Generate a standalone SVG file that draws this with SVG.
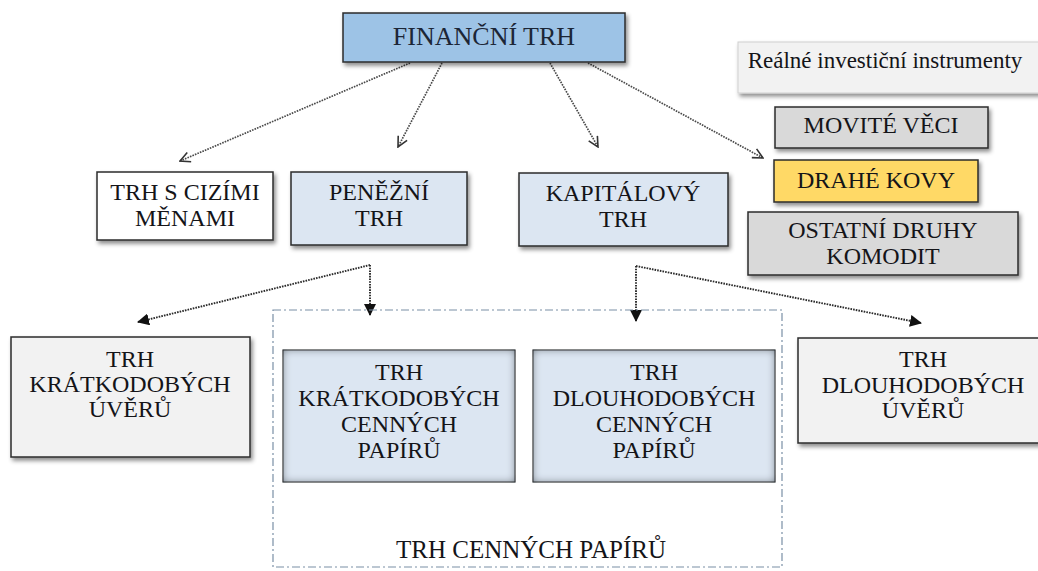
<svg xmlns="http://www.w3.org/2000/svg" width="1038" height="571" viewBox="0 0 1038 571">
  <defs>
    <style>
      text { font-family: "Liberation Serif", "Times New Roman", serif; fill: #141418; text-anchor: middle; font-size: 24px; }
      .title { font-size: 26px; fill: #1c2636; }
      .small { font-size: 23px; }
      .group-label { font-size: 25px; }
      .box { stroke: #2b2b2b; stroke-width: 1.5; filter: url(#shadow); }
      .blue { fill: #dce6f2; }
      .white { fill: #ffffff; }
      .grey { fill: #f2f2f2; }
      .mid { fill: #d9d9d9; }
      .gold { fill: #ffd966; }
      .inner { fill: #dce6f2; stroke: #444; stroke-width: 1; filter: url(#inset); }
      .top { fill: none; stroke: #4a4a4a; stroke-width: 1.7; stroke-dasharray: 1.6 1.1; }
      .bot { fill: none; stroke: #2a2a2a; stroke-width: 1.9; stroke-dasharray: 1.6 1.1; }
      .grp { fill: none; stroke: #7a8fa6; stroke-width: 1.2; stroke-dasharray: 8 3 2 3; }
    </style>
    <filter id="shadow" x="-10%" y="-10%" width="125%" height="135%">
      <feDropShadow dx="2" dy="3" stdDeviation="2" flood-color="#000" flood-opacity="0.45"/>
    </filter>
    <filter id="inset" x="-5%" y="-5%" width="110%" height="110%">
      <feFlood flood-color="#101a26" flood-opacity="0.95" result="f"/>
      <feComposite in="f" in2="SourceAlpha" operator="out" result="o"/>
      <feGaussianBlur in="o" stdDeviation="4.5" result="b"/>
      <feComposite in="b" in2="SourceAlpha" operator="in" result="s"/>
      <feComposite in="s" in2="SourceGraphic" operator="over"/>
    </filter>
    <marker id="openArrow" viewBox="0 0 12 12" refX="11" refY="6" markerWidth="12" markerHeight="12" markerUnits="userSpaceOnUse" orient="auto">
      <path d="M1,1 L11,6 L1,11" fill="none" stroke="#333" stroke-width="1.6"/>
    </marker>
    <marker id="solidArrow" viewBox="0 0 12 12" refX="11" refY="6" markerWidth="12" markerHeight="12" markerUnits="userSpaceOnUse" orient="auto">
      <path d="M0,0 L12,6 L0,12 Z" fill="#111"/>
    </marker>
  </defs>

  <rect width="1038" height="571" fill="#ffffff"/>

  <!-- connectors -->
  <g id="connectors">
    <line class="top" x1="410" y1="63" x2="180" y2="161" marker-end="url(#openArrow)"/>
    <line class="top" x1="442" y1="63" x2="398" y2="147" marker-end="url(#openArrow)"/>
    <line class="top" x1="550" y1="63" x2="598" y2="147" marker-end="url(#openArrow)"/>
    <line class="top" x1="588" y1="63" x2="763" y2="158" marker-end="url(#openArrow)"/>

    <line class="bot" x1="370" y1="265" x2="138" y2="322" marker-end="url(#solidArrow)"/>
    <line class="bot" x1="370" y1="265" x2="370" y2="315" marker-end="url(#solidArrow)"/>
    <line class="bot" x1="636" y1="266" x2="636" y2="321" marker-end="url(#solidArrow)"/>
    <line class="bot" x1="636" y1="266" x2="921" y2="323" marker-end="url(#solidArrow)"/>
  </g>

  <g id="financni-trh">
    <rect class="box" x="343" y="13" width="282" height="49" fill="#9dc3e6"/>
    <text class="title" x="484" y="45">FINANČNÍ TRH</text>
  </g>

  <g id="realne-instrumenty">
    <rect x="738" y="42" width="310" height="51" fill="#f2f2f2" stroke="#d0d0d0" stroke-width="1" filter="url(#shadow)"/>
    <text class="small" x="885" y="68">Reálné investiční instrumenty</text>
  </g>

  <g id="movite-veci">
    <rect class="box mid" x="775" y="107" width="213" height="41"/>
    <text x="881" y="133">MOVITÉ VĚCI</text>
  </g>

  <g id="drahe-kovy">
    <rect class="box gold" x="774" y="160" width="204" height="42"/>
    <text x="876" y="188">DRAHÉ KOVY</text>
  </g>

  <g id="ostatni-komodity">
    <rect class="box mid" x="748" y="212" width="270" height="63"/>
    <text x="883" y="238">OSTATNÍ DRUHY</text>
    <text x="883" y="264">KOMODIT</text>
  </g>

  <g id="trh-cizimi-menami">
    <rect class="box white" x="97" y="172" width="176" height="68"/>
    <text x="185" y="200">TRH S CIZÍMI</text>
    <text x="185" y="226">MĚNAMI</text>
  </g>

  <g id="penezni-trh">
    <rect class="box blue" x="291" y="172" width="176" height="73"/>
    <text x="379" y="200">PENĚŽNÍ</text>
    <text x="379" y="226">TRH</text>
  </g>

  <g id="kapitalovy-trh">
    <rect class="box blue" x="519" y="173" width="209" height="73"/>
    <text x="623" y="201">KAPITÁLOVÝ</text>
    <text x="623" y="227">TRH</text>
  </g>

  <g id="trh-kratkodobych-uveru">
    <rect class="box grey" x="11" y="337" width="239" height="120"/>
    <text x="130" y="367">TRH</text>
    <text x="130" y="392">KRÁTKODOBÝCH</text>
    <text x="130" y="417">ÚVĚRŮ</text>
  </g>

  <g id="trh-cennych-papiru">
    <rect class="grp" x="273" y="310" width="509" height="257"/>
    <text class="group-label" x="531" y="558">TRH CENNÝCH PAPÍRŮ</text>
  </g>

  <g id="trh-kratkodobych-cp">
    <rect class="inner" x="283" y="350" width="232" height="132"/>
    <text x="399" y="380">TRH</text>
    <text x="399" y="406">KRÁTKODOBÝCH</text>
    <text x="399" y="432">CENNÝCH</text>
    <text x="399" y="458">PAPÍRŮ</text>
  </g>

  <g id="trh-dlouhodobych-cp">
    <rect class="inner" x="533" y="350" width="242" height="132"/>
    <text x="654" y="380">TRH</text>
    <text x="654" y="406">DLOUHODOBÝCH</text>
    <text x="654" y="432">CENNÝCH</text>
    <text x="654" y="458">PAPÍRŮ</text>
  </g>

  <g id="trh-dlouhodobych-uveru">
    <rect class="box grey" x="798" y="338" width="252" height="105"/>
    <text x="923" y="367">TRH</text>
    <text x="923" y="393">DLOUHODOBÝCH</text>
    <text x="923" y="418">ÚVĚRŮ</text>
  </g>
</svg>
